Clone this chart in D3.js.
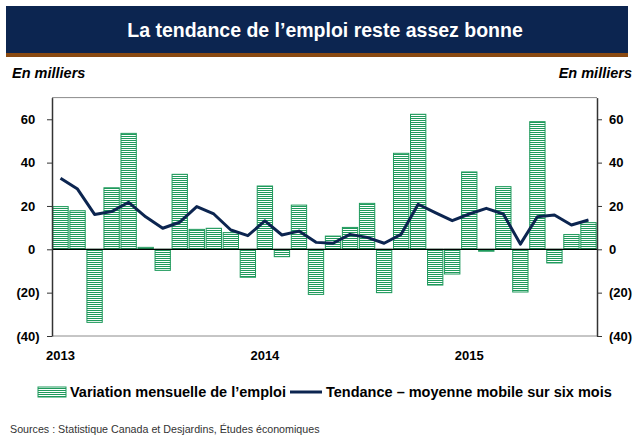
<!DOCTYPE html>
<html>
<head>
<meta charset="utf-8">
<script src="https://cdn.jsdelivr.net/npm/d3@7"></script>
<style>
  body { margin: 0; background: #fff; }
  svg { display: block; font-family: "Liberation Sans", Arial, sans-serif; }
</style>
</head>
<body>
<svg id="chart" width="634" height="437"></svg>
<script>
// monthly data, Jan 2013 -> Aug 2015
var months = d3.range(32).map(function(i){ return new Date(2013, i, 1); });
var variation = [19.7, 17.8, -33.7, 28.4, 53.5, 0.9, -9.7, 34.6, 9.2, 9.7, 7.7, -12.9,
                 29.2, -3.4, 20.4, -20.8, 6.1, 10.1, 21.2, -20.0, 44.3, 62.3, -16.5, -11.4,
                 35.7, -0.9, 28.9, -19.7, 58.9, -6.3, 6.8, 12.3];
var tendance = [32.8, 27.8, 16.1, 17.4, 21.7, 15.0, 9.7, 12.5, 19.7, 16.3, 8.9, 6.3,
                13.1, 6.6, 8.4, 3.2, 2.8, 6.9, 5.5, 2.8, 6.9, 20.8, 16.9, 13.2,
                16.3, 18.9, 16.3, 2.4, 15.0, 15.8, 11.2, 13.5];
var yTicks = [-40, -20, 0, 20, 40, 60];
var yearLabels = ["2013", "2014", "2015"];

var ctx = {
  w: 634, h: 437,
  left: 52, right: 597, top: 97.6, bottom: 336,
  green: "#1f9a5c", navy: "#0c2550", brown: "#8a4a12"
};

var svg = d3.select("#chart");

// stripes for the bars
var pat = svg.append("defs").append("pattern")
    .attr("id", "stripes")
    .attr("patternUnits", "userSpaceOnUse")
    .attr("width", 4).attr("height", 2);
pat.append("rect").attr("width", 4).attr("height", 2).attr("fill", "#fff");
pat.append("rect").attr("width", 4).attr("height", 1).attr("fill", ctx.green);

// title band
svg.append("rect").attr("x", 6).attr("y", 6).attr("width", 622).attr("height", 47).attr("fill", ctx.navy);
svg.append("rect").attr("x", 6).attr("y", 53).attr("width", 622).attr("height", 4).attr("fill", ctx.brown);
svg.append("text")
  .attr("x", 325).attr("y", 37)
  .attr("text-anchor", "middle")
  .attr("fill", "#fff").attr("font-weight", "bold").attr("font-size", 19.5)
  .text("La tendance de l\u2019emploi reste assez bonne");

svg.append("text").attr("x", 12).attr("y", 78)
  .attr("font-weight", "bold").attr("font-style", "italic").attr("font-size", 14.5)
  .text("En milliers");
svg.append("text").attr("x", 632).attr("y", 78).attr("text-anchor", "end")
  .attr("font-weight", "bold").attr("font-style", "italic").attr("font-size", 14.5)
  .text("En milliers");

// scales
var x = d3.scaleBand().domain(months).range([ctx.left, ctx.right]).paddingInner(0.1).paddingOuter(0.05);
var y = d3.scaleLinear().domain([-40, 70]).range([ctx.bottom, ctx.top]);

var fmt = function(d){ return d < 0 ? "(" + Math.abs(d) + ")" : String(d); };

// bars
svg.append("g").selectAll("rect")
  .data(variation)
  .enter().append("rect")
  .attr("x", function(d, i){ return x(months[i]); })
  .attr("width", x.bandwidth())
  .attr("y", function(d){ return y(Math.max(0, d)); })
  .attr("height", function(d){ return Math.abs(y(d) - y(0)); })
  .attr("fill", "url(#stripes)")
  .attr("stroke", ctx.green).attr("stroke-width", 1);

// frame
svg.append("line").attr("x1", ctx.left).attr("x2", ctx.right).attr("y1", ctx.top).attr("y2", ctx.top)
  .attr("stroke", "#8c8c8c");
svg.append("line").attr("x1", ctx.left).attr("x2", ctx.right).attr("y1", ctx.bottom).attr("y2", ctx.bottom)
  .attr("stroke", "#8c8c8c");

// zero line
svg.append("line").attr("x1", ctx.left).attr("x2", ctx.right).attr("y1", y(0)).attr("y2", y(0))
  .attr("stroke", "#000").attr("stroke-width", 1.2);

// axes
var leftAxis = svg.append("g").attr("transform", "translate(" + ctx.left + ",0)")
  .call(d3.axisLeft(y).tickValues(yTicks).tickSize(5).tickSizeOuter(0).tickFormat(""));
var rightAxis = svg.append("g").attr("transform", "translate(" + ctx.right + ",0)")
  .call(d3.axisRight(y).tickValues(yTicks).tickSize(5).tickSizeOuter(0).tickFormat(""));
[leftAxis, rightAxis].forEach(function(a){
  a.select(".domain").attr("stroke", "#333").attr("stroke-width", 1.5);
  a.selectAll(".tick line").attr("stroke", "#333");
});

// tick labels (positive values leave room for the closing paren)
svg.append("g").selectAll("text").data(yTicks).enter().append("text")
  .attr("x", function(d){ return d < 0 ? 39.5 : 35.3; })
  .attr("y", function(d){ return y(d); })
  .attr("dy", "0.36em")
  .attr("text-anchor", "end")
  .attr("font-weight", "bold").attr("font-size", 13)
  .text(fmt);
svg.append("g").selectAll("text").data(yTicks).enter().append("text")
  .attr("x", 609)
  .attr("y", function(d){ return y(d); })
  .attr("dy", "0.36em")
  .attr("font-weight", "bold").attr("font-size", 13)
  .text(fmt);

// year labels
svg.append("g").selectAll("text").data(yearLabels).enter().append("text")
  .attr("x", function(d){ return x(new Date(+d, 0, 1)) + x.bandwidth() / 2; })
  .attr("y", 360)
  .attr("text-anchor", "middle")
  .attr("font-weight", "bold").attr("font-size", 13)
  .text(function(d){ return d; });

// trend line
var line = d3.line()
  .x(function(d, i){ return x(months[i]) + x.bandwidth() / 2; })
  .y(function(d){ return y(d); });
svg.append("path").datum(tendance)
  .attr("d", line)
  .attr("fill", "none")
  .attr("stroke", ctx.navy).attr("stroke-width", 3)
  .attr("stroke-linejoin", "round");

// legend
var legend = svg.append("g").attr("transform", "translate(0,392)");
legend.append("rect").attr("x", 38).attr("y", -5).attr("width", 28).attr("height", 10)
  .attr("fill", "url(#stripes)").attr("stroke", ctx.green);
legend.append("text").attr("x", 70).attr("y", 0).attr("dy", "0.36em")
  .attr("font-weight", "bold").attr("font-size", 14.5)
  .text("Variation mensuelle de l\u2019emploi");
legend.append("line").attr("x1", 290).attr("x2", 322).attr("y1", 0).attr("y2", 0)
  .attr("stroke", ctx.navy).attr("stroke-width", 3);
legend.append("text").attr("x", 326).attr("y", 0).attr("dy", "0.36em")
  .attr("font-weight", "bold").attr("font-size", 14.5)
  .text("Tendance \u2013 moyenne mobile sur six mois");

svg.append("text").attr("x", 10).attr("y", 433)
  .attr("font-size", 10.7).attr("fill", "#333")
  .text("Sources : Statistique Canada et Desjardins, \u00c9tudes \u00e9conomiques");
</script>
</body>
</html>
